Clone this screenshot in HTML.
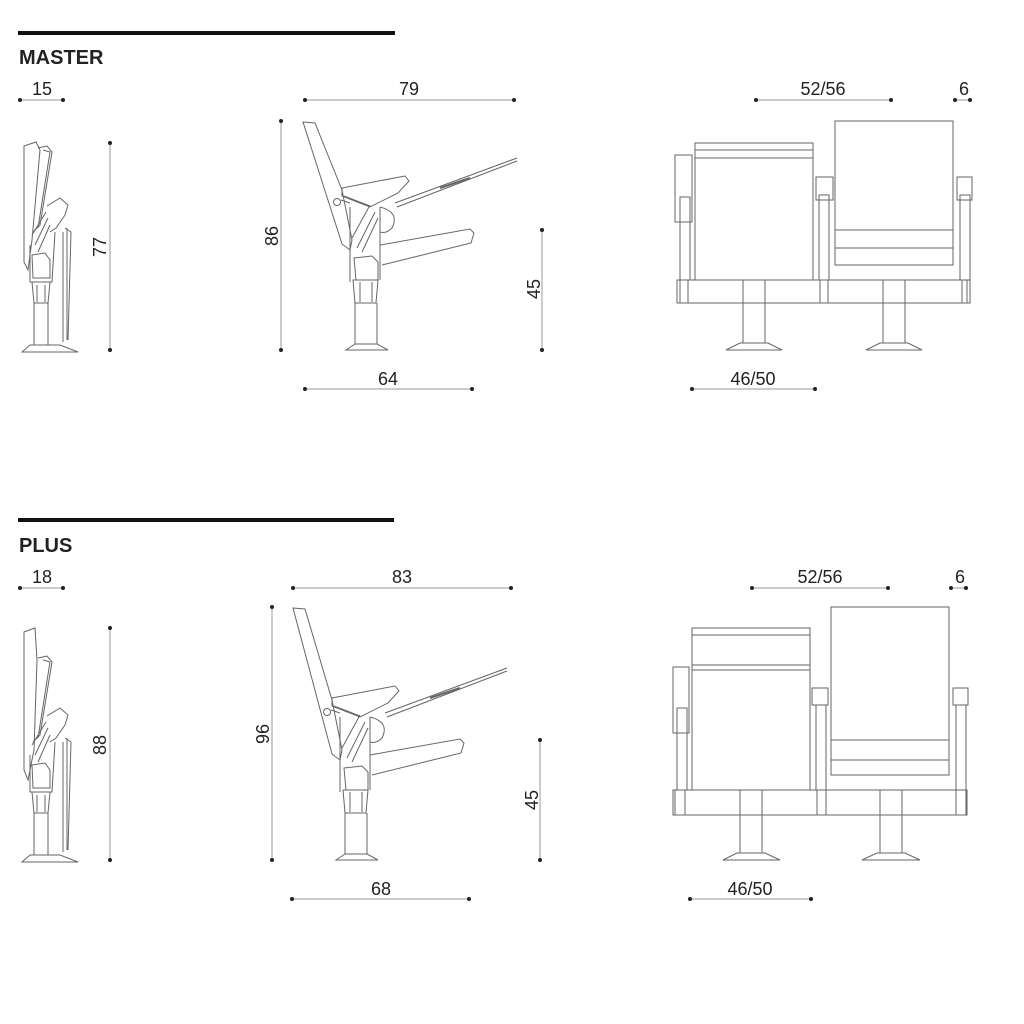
<!DOCTYPE html>
<html><head><meta charset="utf-8"><style>
html,body{margin:0;padding:0;background:#fff;}
svg{display:block;}
text{font-family:"Liberation Sans Narrow","Liberation Sans",sans-serif;fill:#222;}
</style></head><body>
<svg width="1024" height="1024" viewBox="0 0 1024 1024" xmlns="http://www.w3.org/2000/svg">
<defs>
<g id="dot"><circle r="2" fill="#222"/></g>
<!-- side view without backrest (master coords) -->
<g id="side" fill="none" stroke="#666" stroke-width="1">
  <path d="M342,188 L405,176 L409,181 L398,193 L370,207 L342,196 Z"/>
  <path d="M344,196 L370,206"/>
  <circle cx="337" cy="202" r="3.5"/>
  <path d="M341,200 L350,203"/>
  <path d="M395,203 L517,158 M397,207 L517,161"/>
  <path d="M440,188 L470,178" stroke-width="2"/>
  <path d="M380,207 Q400,212 392,228 Q386,234 380,232"/>
  <path d="M350,207 L350,282 M380,207 L380,280"/>
  <path d="M352,238 L370,205 M357,248 L375,212 M362,252 L378,218"/>
  <path d="M380,245 L470,229 L474,233 L471,243 L382,265"/>
  <path d="M354,258 L372,256 L378,262 L378,280 L356,280 Z"/>
  <path d="M353,280 L378,280 L376,303 L355,303 Z"/>
  <path d="M360,282 L360,302 M372,282 L372,302"/>
  <path d="M355,303 L355,344 M377,303 L377,344"/>
  <path d="M346,350 L355,344 L377,344 L388,350 Z"/>
</g>
<!-- folded view without back strip top -->
<g id="fold" fill="none" stroke="#666" stroke-width="1">
  <path d="M38,148 L47,146 L52,152 L40,225 L33,232"/>
  <path d="M43,150 L50,152 L38,228"/>
  <path d="M47,206 L60,198 L68,205 L65,215 L56,228 L50,232"/>
  <path d="M32,235 L46,212 M35,245 L48,218 M38,252 L50,225"/>
  <path d="M30,245 L30,282 L52,282 L55,232"/>
  <path d="M32,255 L45,253 L50,260 L50,278 L33,278 Z"/>
  <path d="M32,282 L50,282 L48,303 L34,303 Z"/>
  <path d="M37,285 L37,302 M45,285 L45,302"/>
  <path d="M34,303 L34,345 M48,303 L48,345"/>
  <path d="M22,352 L30,345 L60,345 L78,352 Z"/>
  <path d="M63,232 L63,342 M67,228 L67,340 M65,228 L71,232 L68,340"/>
</g>
</defs>

<!-- ===== MASTER ===== -->
<rect x="18" y="31" width="377" height="4" fill="#111"/>
<text x="19" y="64" font-size="20" font-weight="bold" font-family="Liberation Sans" style="font-family:'Liberation Sans',sans-serif">MASTER</text>

<g stroke="#999" stroke-width="1">
  <line x1="20" y1="100" x2="63" y2="100"/>
  <line x1="110" y1="143" x2="110" y2="350"/>
  <line x1="305" y1="100" x2="514" y2="100"/>
  <line x1="281" y1="121" x2="281" y2="350"/>
  <line x1="542" y1="230" x2="542" y2="350"/>
  <line x1="305" y1="389" x2="472" y2="389"/>
  <line x1="756" y1="100" x2="891" y2="100"/>
  <line x1="955" y1="100" x2="970" y2="100"/>
  <line x1="692" y1="389" x2="815" y2="389"/>
</g>
<g fill="#222">
  <circle cx="20" cy="100" r="2"/><circle cx="63" cy="100" r="2"/>
  <circle cx="110" cy="143" r="2"/><circle cx="110" cy="350" r="2"/>
  <circle cx="305" cy="100" r="2"/><circle cx="514" cy="100" r="2"/>
  <circle cx="281" cy="121" r="2"/><circle cx="281" cy="350" r="2"/>
  <circle cx="542" cy="230" r="2"/><circle cx="542" cy="350" r="2"/>
  <circle cx="305" cy="389" r="2"/><circle cx="472" cy="389" r="2"/>
  <circle cx="756" cy="100" r="2"/><circle cx="891" cy="100" r="2"/>
  <circle cx="955" cy="100" r="2"/><circle cx="970" cy="100" r="2"/>
  <circle cx="692" cy="389" r="2"/><circle cx="815" cy="389" r="2"/>
</g>
<g font-size="18" text-anchor="middle">
  <text x="42" y="95">15</text>
  <text x="409" y="95">79</text>
  <text x="388" y="385">64</text>
  <text x="823" y="95">52/56</text>
  <text x="964" y="95">6</text>
  <text x="753" y="385">46/50</text>
  <text transform="translate(106,247) rotate(-90)">77</text>
  <text transform="translate(278,236) rotate(-90)">86</text>
  <text transform="translate(540,289) rotate(-90)">45</text>
</g>

<use href="#fold"/>
<path d="M24,146 L36,142 L40,150 L32,240 L28,270 L24,262 Z" fill="none" stroke="#666"/>
<use href="#side"/>
<path d="M303,122 L315,123 L342,190 L352,240 L350,250 L342,244 Z" fill="none" stroke="#666"/>

<!-- front view master -->
<g fill="none" stroke="#666" stroke-width="1">
  <rect x="677" y="280" width="290" height="23"/>
  <rect x="680" y="280" width="8" height="23"/>
  <rect x="820" y="280" width="8" height="23"/>
  <rect x="962" y="280" width="8" height="23"/>
  <rect x="695" y="143" width="118" height="137"/>
  <line x1="695" y1="150" x2="813" y2="150"/>
  <line x1="695" y1="158" x2="813" y2="158"/>
  <rect x="675" y="155" width="17" height="67"/>
  <rect x="680" y="197" width="10" height="83"/>
  <rect x="816" y="177" width="17" height="23"/>
  <rect x="819" y="195" width="10" height="85"/>
  <rect x="835" y="121" width="118" height="144"/>
  <line x1="835" y1="230" x2="953" y2="230"/>
  <line x1="835" y1="248" x2="953" y2="248"/>
  <rect x="957" y="177" width="15" height="23"/>
  <rect x="960" y="195" width="10" height="85"/>
  <path d="M743,280 L743,343 M765,280 L765,343"/>
  <path d="M726,350 L740,343 L768,343 L782,350 Z"/>
  <path d="M883,280 L883,343 M905,280 L905,343"/>
  <path d="M866,350 L880,343 L908,343 L922,350 Z"/>
</g>

<!-- ===== PLUS ===== -->
<rect x="18" y="518" width="376" height="4" fill="#111"/>
<text x="19" y="552" font-size="20" font-weight="bold" style="font-family:'Liberation Sans',sans-serif">PLUS</text>

<g stroke="#999" stroke-width="1">
  <line x1="20" y1="588" x2="63" y2="588"/>
  <line x1="110" y1="628" x2="110" y2="860"/>
  <line x1="293" y1="588" x2="511" y2="588"/>
  <line x1="272" y1="607" x2="272" y2="860"/>
  <line x1="540" y1="740" x2="540" y2="860"/>
  <line x1="292" y1="899" x2="469" y2="899"/>
  <line x1="752" y1="588" x2="888" y2="588"/>
  <line x1="951" y1="588" x2="966" y2="588"/>
  <line x1="690" y1="899" x2="811" y2="899"/>
</g>
<g fill="#222">
  <circle cx="20" cy="588" r="2"/><circle cx="63" cy="588" r="2"/>
  <circle cx="110" cy="628" r="2"/><circle cx="110" cy="860" r="2"/>
  <circle cx="293" cy="588" r="2"/><circle cx="511" cy="588" r="2"/>
  <circle cx="272" cy="607" r="2"/><circle cx="272" cy="860" r="2"/>
  <circle cx="540" cy="740" r="2"/><circle cx="540" cy="860" r="2"/>
  <circle cx="292" cy="899" r="2"/><circle cx="469" cy="899" r="2"/>
  <circle cx="752" cy="588" r="2"/><circle cx="888" cy="588" r="2"/>
  <circle cx="951" cy="588" r="2"/><circle cx="966" cy="588" r="2"/>
  <circle cx="690" cy="899" r="2"/><circle cx="811" cy="899" r="2"/>
</g>
<g font-size="18" text-anchor="middle">
  <text x="42" y="583">18</text>
  <text x="402" y="583">83</text>
  <text x="381" y="895">68</text>
  <text x="820" y="583">52/56</text>
  <text x="960" y="583">6</text>
  <text x="750" y="895">46/50</text>
  <text transform="translate(106,745) rotate(-90)">88</text>
  <text transform="translate(269,734) rotate(-90)">96</text>
  <text transform="translate(538,800) rotate(-90)">45</text>
</g>

<g transform="translate(0,510)"><use href="#fold"/></g>
<path d="M24,632 L35,628 L37,660 L34,750 L28,780 L24,770 Z" fill="none" stroke="#666"/>
<g transform="translate(-10,510)"><use href="#side"/></g>
<path d="M293,608 L305,609 L332,700 L342,750 L340,760 L332,754 Z" fill="none" stroke="#666"/>

<!-- front view plus -->
<g fill="none" stroke="#666" stroke-width="1">
  <rect x="673" y="790" width="294" height="25"/>
  <rect x="675" y="790" width="10" height="25"/>
  <rect x="817" y="790" width="9" height="25"/>
  <rect x="956" y="790" width="10" height="25"/>
  <rect x="692" y="628" width="118" height="162"/>
  <line x1="692" y1="635" x2="810" y2="635"/>
  <line x1="692" y1="665" x2="810" y2="665"/>
  <line x1="692" y1="670" x2="810" y2="670"/>
  <rect x="673" y="667" width="16" height="66"/>
  <rect x="677" y="708" width="10" height="82"/>
  <rect x="812" y="688" width="16" height="17"/>
  <rect x="816" y="705" width="10" height="85"/>
  <rect x="831" y="607" width="118" height="168"/>
  <line x1="831" y1="740" x2="949" y2="740"/>
  <line x1="831" y1="760" x2="949" y2="760"/>
  <rect x="953" y="688" width="15" height="17"/>
  <rect x="956" y="705" width="10" height="85"/>
  <path d="M740,790 L740,853 M762,790 L762,853"/>
  <path d="M723,860 L737,853 L765,853 L780,860 Z"/>
  <path d="M880,790 L880,853 M902,790 L902,853"/>
  <path d="M862,860 L877,853 L905,853 L920,860 Z"/>
</g>
</svg>
</body></html>
